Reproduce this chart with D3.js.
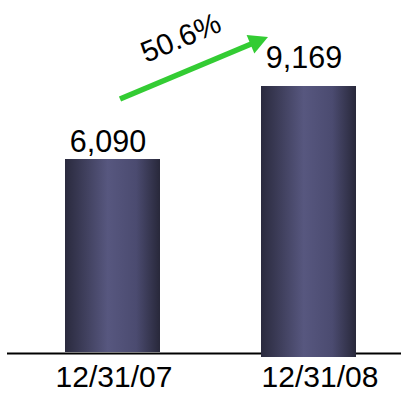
<!DOCTYPE html>
<html><head><meta charset="utf-8">
<script src="https://cdn.jsdelivr.net/npm/d3@7"></script>
<style>html,body{margin:0;padding:0;background:#fff;}svg{display:block;}</style>
</head><body>
<script>
const categories = ["12/31/07", "12/31/08"];
const values = [6090, 9169];
const valueLabels = ["6,090", "9,169"];
const growthLabel = "50.6%";

const W = 401, H = 394;
const svg = d3.select("body").append("svg").attr("width", W).attr("height", H)
  .style("font-family", "'Liberation Sans', Arial, sans-serif");

const defs = svg.append("defs");
const grad = defs.append("linearGradient").attr("id", "barGrad")
  .attr("x1", "0%").attr("x2", "100%").attr("y1", "0%").attr("y2", "0%");
grad.append("stop").attr("offset", "0%").attr("stop-color", "#2a2a3e");
grad.append("stop").attr("offset", "45%").attr("stop-color", "#57577f");
grad.append("stop").attr("offset", "75%").attr("stop-color", "#4b4b70");
grad.append("stop").attr("offset", "100%").attr("stop-color", "#28283a");

const x = d3.scaleBand().domain(categories).range([6.2, 414.8]).paddingInner(0.5153).paddingOuter(0.3);
const y = d3.scaleLinear().domain([0, 10000]).range([303.4, 66.3]);
const baseY = 353.5;
const barBottomExtra = [-1.5, 3.5];
const labelGap = [7, 18];

svg.append("line").attr("x1", 7).attr("x2", 401).attr("y1", baseY).attr("y2", baseY)
  .attr("stroke", "#000").attr("stroke-width", 2);

svg.append("g").selectAll("rect").data(values).join("rect")
  .attr("x", (d, i) => x(categories[i]))
  .attr("width", x.bandwidth())
  .attr("y", d => y(d))
  .attr("height", (d, i) => baseY + barBottomExtra[i] - y(d))
  .attr("fill", "url(#barGrad)");

svg.append("g").selectAll("text").data(values).join("text")
  .attr("x", (d, i) => x(categories[i]) + x.bandwidth() / 2 - 4.5)
  .attr("y", (d, i) => y(d) - labelGap[i])
  .attr("text-anchor", "middle").attr("font-size", 30.5).attr("fill", "#000")
  .text((d, i) => valueLabels[i]);

const catOffset = [1.5, 11.5];
svg.append("g").selectAll("text").data(categories).join("text")
  .attr("x", (d, i) => x(d) + x.bandwidth() / 2 + catOffset[i])
  .attr("y", 387)
  .attr("text-anchor", "middle").attr("font-size", 30).attr("fill", "#000")
  .text(d => d);

// growth arrow
const ax1 = 120, ay1 = 99, ax2 = 268, ay2 = 37;
const ang = Math.atan2(ay2 - ay1, ax2 - ax1);
const headLen = 19, headW = 10;
const bx = ax2 - headLen * Math.cos(ang), by = ay2 - headLen * Math.sin(ang);
svg.append("line").attr("x1", ax1).attr("y1", ay1).attr("x2", bx + 2 * Math.cos(ang)).attr("y2", by + 2 * Math.sin(ang))
  .attr("stroke", "#33cc33").attr("stroke-width", 5.5);
const px = -Math.sin(ang), py = Math.cos(ang);
svg.append("path")
  .attr("d", `M${ax2},${ay2} L${bx + headW * px},${by + headW * py} L${bx - headW * px},${by - headW * py} Z`)
  .attr("fill", "#33cc33");

svg.append("text").attr("transform", `translate(146,63) rotate(${ang * 180 / Math.PI})`)
  .attr("font-size", 29.5).attr("fill", "#000").text(growthLabel);
</script>
</body></html>
